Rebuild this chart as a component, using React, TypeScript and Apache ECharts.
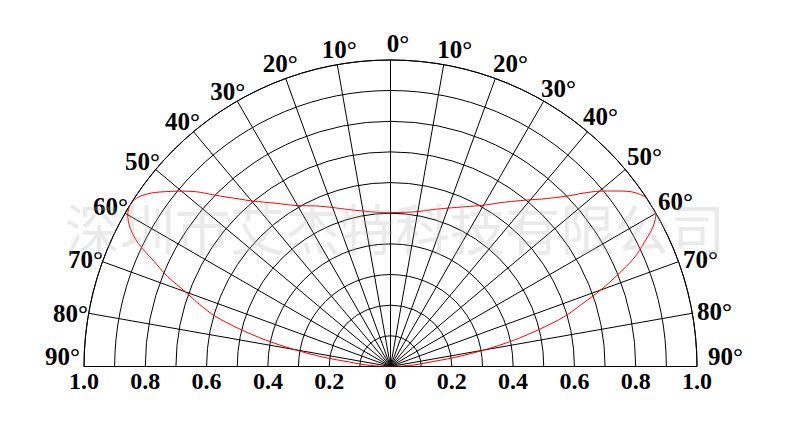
import React, { useEffect, useRef } from "react";
import * as echarts from "echarts";

// Angles (degrees from the vertical axis) and relative intensity on each side
const leftAngles = [-90, -88, -86, -84, -82, -80, -78, -76, -74, -72, -70, -68, -66, -64, -62, -60, -58, -56, -54, -52, -50, -48, -46, -44, -42, -40, -35, -30, -25, -20, -15, -10, -5, 0];
const leftValues = [0, 0.04, 0.09, 0.13, 0.225, 0.32, 0.418, 0.51, 0.595, 0.655, 0.712, 0.785, 0.845, 0.915, 0.962, 0.99, 1.0, 0.99, 0.963, 0.927, 0.89, 0.852, 0.807, 0.768, 0.735, 0.705, 0.65, 0.606, 0.578, 0.552, 0.53, 0.515, 0.505, 0.502];
const rightAngles = [5, 10, 15, 20, 25, 30, 35, 40, 42, 44, 46, 48, 50, 52, 54, 56, 58, 60, 62, 64, 66, 68, 70, 72, 74, 76, 78, 80, 82, 84, 86, 88, 90];
const rightValues = [0.505, 0.513, 0.53, 0.55, 0.575, 0.608, 0.655, 0.71, 0.735, 0.765, 0.8, 0.845, 0.89, 0.93, 0.97, 0.995, 1.005, 1.0, 0.97, 0.92, 0.87, 0.8, 0.73, 0.655, 0.59, 0.5, 0.41, 0.31, 0.21, 0.12, 0.08, 0.035, 0];

const angleTicks = { min: -90, max: 90, interval: 10 };
const angleLabels = [-90, -80, -70, -60, -50, -40, -30, -20, -10, 0, 10, 20, 30, 40, 50, 60, 70, 80, 90];
const radiusTicks = { min: 0, max: 1, interval: 0.1 };
const baseTicks = { min: -1, max: 1, interval: 0.2 };
const watermark = "深圳市艾杰特科技有限公司";

const CX = 390.5;
const CY = 366.5;
const R = 306.5;

// label placement styles (pixel nudges) for the degree labels
const labelNudge: Record<number, [number, number]> = {
  [-90]: [-4, 2.5],
  [-80]: [-0.7, 12.7],
  [-70]: [0.5, 10],
  [-60]: [3, 6],
  [-50]: [4.3, 4.5],
  [-40]: [6.5, 2.3],
  [-30]: [8, 3],
  [-20]: [12, -2.5],
  [-10]: [2, -2.7],
  0: [7.5, -4],
  10: [11, -2.7],
  20: [-2.3, -2.5],
  30: [-2.7, 0],
  40: [-4.5, -2.7],
  50: [1.7, -0.5],
  60: [2, 1],
  70: [4.5, 10],
  80: [4.7, 10.7],
  90: [11, 2.5],
};

export default function App() {
  const ref = useRef<HTMLDivElement>(null);
  useEffect(() => {
    if (!ref.current) return;
    const chart = echarts.init(ref.current, undefined, { renderer: "svg" });
    const data: number[][] = [];
    leftAngles.forEach((a, i) => data.push([leftValues[i], a]));
    rightAngles.forEach((a, i) => data.push([rightValues[i], a]));
    const font = {
      fontFamily: "Liberation Serif",
      fontWeight: "bold" as const,
      color: "#000000",
      textBorderWidth: 0,
      textShadowBlur: 0,
      opacity: 1,
    };
    const labelData = angleLabels.map((a) => ({
      value: [radiusTicks.max, a],
      label: {
        align: Math.abs(a) <= 10 ? "center" : a < 0 ? "right" : "left",
        verticalAlign: "bottom",
        offset: labelNudge[a] || [0, 0],
      },
    }));
    chart.setOption({
      animation: false,
      backgroundColor: "#fff",
      polar: { center: [CX, CY], radius: R },
      angleAxis: {
        type: "value",
        min: angleTicks.min,
        max: angleTicks.max,
        interval: angleTicks.interval,
        startAngle: 180,
        endAngle: 0,
        clockwise: true,
        axisLine: { show: true, lineStyle: { color: "#000", width: 1 } },
        axisTick: { show: false },
        splitLine: { show: true, lineStyle: { color: "#000", width: 1 } },
        axisLabel: { show: false },
      },
      radiusAxis: {
        type: "value",
        min: radiusTicks.min,
        max: radiusTicks.max,
        interval: radiusTicks.interval,
        axisLine: { show: false },
        axisTick: { show: false },
        axisLabel: { show: false },
        splitLine: { show: true, lineStyle: { color: "#000", width: 1 } },
      },
      grid: { left: CX - R, width: 2 * R, top: 100, height: CY - 100 },
      xAxis: {
        type: "value",
        min: baseTicks.min,
        max: baseTicks.max,
        interval: baseTicks.interval,
        axisLine: { show: false },
        axisTick: { show: false },
        splitLine: { show: false },
        axisLabel: {
          fontFamily: "Liberation Serif",
          fontWeight: "bold",
          color: "#000",
          fontSize: 24,
          margin: 2,
          formatter: (v: number) => (Math.abs(v) < 1e-9 ? "0" : Math.abs(v).toFixed(1)),
        },
      },
      yAxis: { type: "value", show: false, min: 0, max: 1 },
      series: [
        {
          type: "line",
          coordinateSystem: "polar",
          data,
          smooth: 0.3,
          showSymbol: false,
          lineStyle: { color: "#ff0000", width: 1 },
          z: 5,
        },
        {
          type: "scatter",
          coordinateSystem: "polar",
          data: labelData,
          symbolSize: 0,
          itemStyle: { color: "#000000" },
          silent: true,
          emphasis: { disabled: true },
          label: {
            show: true,
            position: "top",
            distance: 0,
            ...font,
            fontSize: 25,
            formatter: (p: any) => Math.abs(Math.round(p.value[1])) + "°",
          },
          z: 6,
        },
      ],
      graphic: [
        {
          type: "text",
          x: 395,
          y: 226,
          z: 100,
          silent: true,
          style: {
            text: watermark,
            fontSize: 55,
            fontFamily: "Noto Sans CJK SC",
            fill: "rgba(180,180,180,0.28)",
            align: "center",
            verticalAlign: "middle",
          },
        },
      ],
    });
    return () => chart.dispose();
  }, []);
  return (
    <div
      ref={ref}
      style={{ position: "absolute", left: 0, top: 0, width: 791, height: 431 }}
    />
  );
}
